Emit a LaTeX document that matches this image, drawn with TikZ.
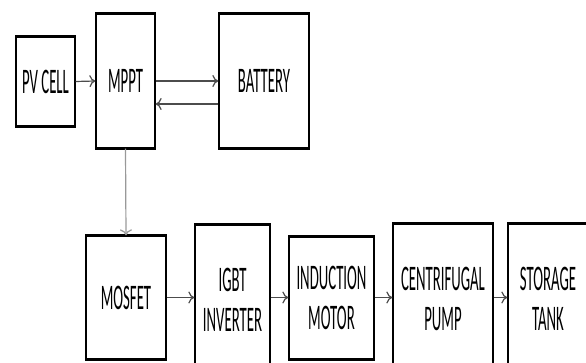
\documentclass[tikz,border=0pt]{standalone}
\usepackage{fontspec}
\newfontfamily\narrowfont[FakeStretch=0.41]{Carlito}
\usetikzlibrary{arrows.meta}

\tikzset{
  blk/.style={draw=black, line width=1.3pt, inner sep=0pt, align=center,
    font=\narrowfont\fontsize{36}{40}\selectfont, text=black},
  edge/.style={line width=3pt, black},
  link/.style={draw=black!70, line width=1.2pt, -{To[length=6pt,width=12pt]}},
}

\begin{document}
\begin{tikzpicture}[x=1pt,y=-1pt]
  \useasboundingbox (0,0) rectangle (586,363);
  \clip (0,0) rectangle (586,363);
  % top row
  \node[blk, minimum width=59pt, minimum height=89pt] (pv) at (45.5,81.5) {PV CELL};
  \node[blk, minimum width=59pt, minimum height=134pt] (mppt) at (125.5,81) {MPPT};
  \node[blk, minimum width=90pt, minimum height=134pt] (bat) at (264,81) {BATTERY};
  % bottom row
  \node[blk, minimum width=80pt, minimum height=123pt] (mos) at (126,297.5) {MOSFET};
  \node[blk, minimum width=75pt, minimum height=150pt] (igbt) at (232.5,300) {IGBT\\INVERTER};
  \node[blk, minimum width=85pt, minimum height=122pt] (motor) at (331.5,298) {INDUCTION\\MOTOR};
  \node[blk, minimum width=100pt, minimum height=150pt] (pump) at (443,299) {CENTRIFUGAL\\PUMP};
  \node[blk, minimum width=80pt, minimum height=150pt] (tank) at (548,299) {STORAGE\\TANK};
  % heavy top and bottom edges
  \foreach \n in {pv,mppt,bat,mos,igbt,motor,pump,tank}
    \draw[edge] (\n.north west) -- (\n.north east) (\n.south west) -- (\n.south east);
  % connectors
  \draw[link] (pv.east) -- (mppt.west);
  \draw[link] (mppt.east) -- (bat.west);
  \draw[link] ([yshift=-23pt]bat.west) -- ([yshift=-23pt]mppt.east);
  \draw[link, draw=black!40] (mppt.south) -- (mos.north);
  \draw[link] (mos.east) -- (igbt.west |- mos.east);
  \draw[link] (igbt.east |- mos.east) -- (motor.west |- mos.east);
  \draw[link] (motor.east |- mos.east) -- (pump.west |- mos.east);
  \draw[link] (pump.east |- mos.east) -- (tank.west |- mos.east);
\end{tikzpicture}
\end{document}
